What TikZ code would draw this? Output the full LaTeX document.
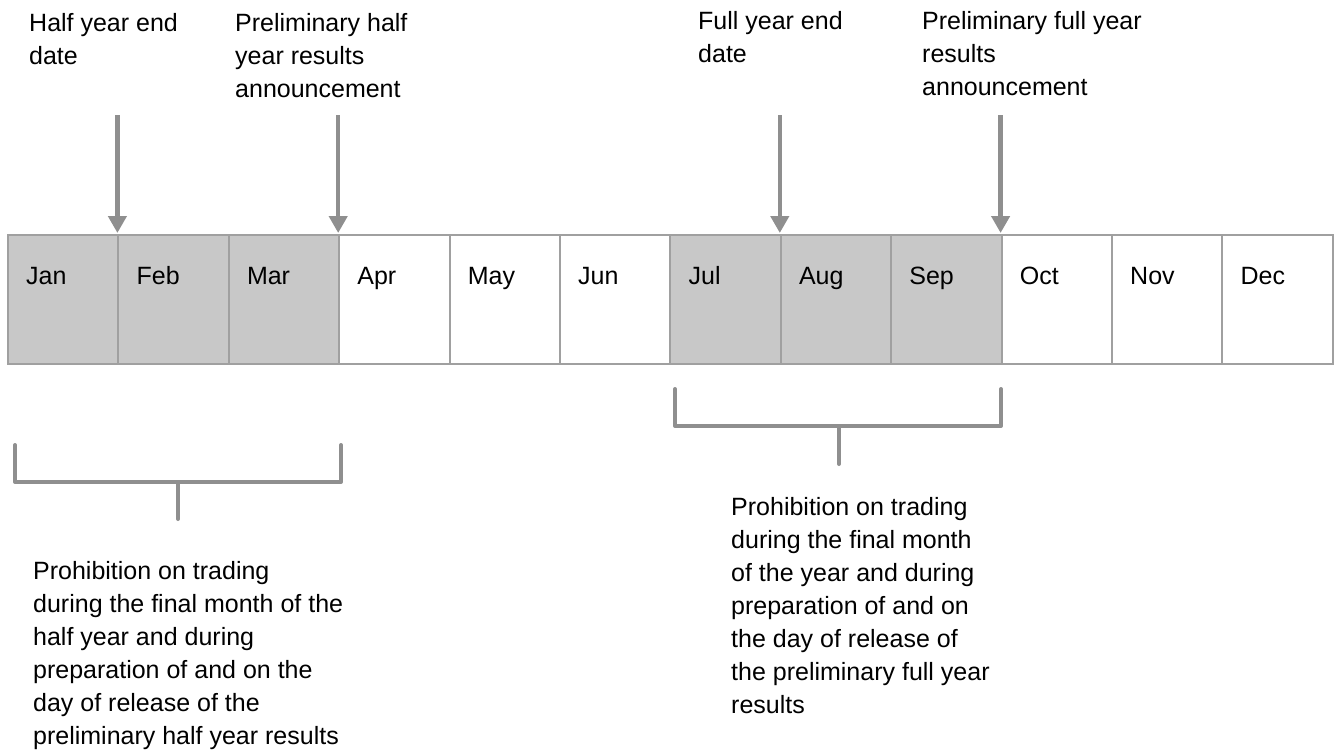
\documentclass[tikz,border=0pt]{standalone}
\usepackage{fontspec}
\setmainfont{Liberation Sans}
\usepackage{tikz}
\usetikzlibrary{arrows.meta,calc}
\definecolor{boxgray}{HTML}{C8C8C8}
\definecolor{edgegray}{HTML}{A0A0A0}
\definecolor{linegray}{HTML}{8F8F8F}

\begin{document}
\begin{tikzpicture}[x=1pt, y=-1pt,
    month/.style={rectangle, draw=edgegray, line width=2pt, minimum width=110.4pt, minimum height=129pt, inner sep=0pt},
    busy/.style={month, fill=boxgray},
    mlabel/.style={anchor=base west, inner sep=0pt, font=\fontsize{25}{33}\selectfont},
    note/.style={anchor=north west, inner sep=0pt, align=left, font=\fontsize{25}{33}\selectfont},
    pointer/.style={-{Triangle[width=18pt, length=17pt]}, line width=4.5pt, draw=linegray, shorten >=1pt},
    bracket/.style={line width=4pt, draw=linegray, line join=round, line cap=round}
]
    \useasboundingbox (0,0) rectangle (1339,752);

    \foreach \m/\name/\shade [count=\i] in {Jan/jan/busy, Feb/feb/busy, Mar/mar/busy, Apr/apr/month,
        May/may/month, Jun/jun/month, Jul/jul/busy, Aug/aug/busy, Sep/sep/busy, Oct/oct/month,
        Nov/nov/month, Dec/dec/month} {
        \node[\shade] (\name) at ({8+110.4*(\i-0.5)}, 299.5) {};
        \node[mlabel] (\name-t) at ($(\name.north west)+(19,50)$) {\m};
    }

    \node[note] (hyend) at (29,12.8) {Half year end\\date};
    \node[note] (hyres) at (235,12.8) {Preliminary half\\year results\\announcement};
    \node[note] (fyend) at (698,11) {Full year end\\date};
    \node[note] (fyres) at (922,11) {Preliminary full year\\results\\announcement};

    \coordinate (hyend-a) at ([yshift=119pt]feb.north west);
    \coordinate (hyres-a) at ([yshift=119pt]apr.north west);
    \coordinate (fyend-a) at ([yshift=119pt]aug.north west);
    \coordinate (fyres-a) at ([yshift=119pt]oct.north west);
    \draw[pointer] (hyend-a) -- (feb.north west);
    \draw[pointer] (hyres-a) -- (apr.north west);
    \draw[pointer] (fyend-a) -- (aug.north west);
    \draw[pointer] (fyres-a) -- (oct.north west);

    \draw[bracket] (15,445) -- (15,482) -- (341,482) -- (341,445);
    \draw[bracket] (178,482) -- (178,519);
    \draw[bracket] (675,389) -- (675,426) -- (1001,426) -- (1001,389);
    \draw[bracket] (839,426) -- (839,464);

    \node[note] (hyban) at (33,561) {Prohibition on trading\\during the final month of the\\half year and during\\preparation of and on the\\day of release of the\\preliminary half year results};
    \node[note] (fyban) at (731,496.8) {Prohibition on trading\\during the final month\\of the year and during\\preparation of and on\\the day of release of\\the preliminary full year\\results};
\end{tikzpicture}
\end{document}
